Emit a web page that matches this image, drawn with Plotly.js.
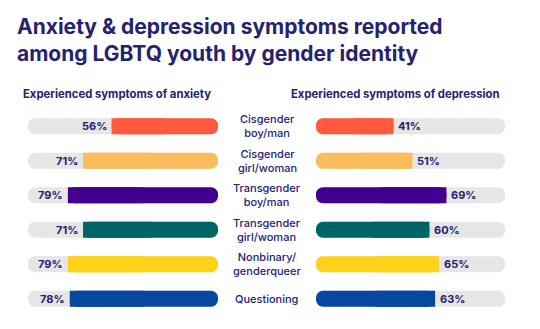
<!DOCTYPE html>
<html>
<head>
<meta charset="utf-8">
<script src="https://cdn.plot.ly/plotly-3.0.1.min.js"></script>
<style>html,body{margin:0;padding:0;background:#fff;}#chart{width:540px;height:329px;}</style>
</head>
<body>
<div id="chart"></div>
<script>
const groups = ["Cisgender<br>boy/man", "Cisgender<br>girl/woman", "Transgender<br>boy/man", "Transgender<br>girl/woman", "Nonbinary/<br>genderqueer", "Questioning"];
const anxiety = [56, 71, 79, 71, 79, 78];
const depression = [41, 51, 69, 60, 65, 63];
const barColors = ["#ff5a3d", "#f9be5b", "#420091", "#006466", "#ffd21a", "#0747a0"];
const titleText = "Anxiety & depression symptoms reported<br>among LGBTQ youth by gender identity";
const leftTitle = "Experienced symptoms of anxiety";
const rightTitle = "Experienced symptoms of depression";

const NAVY = "#25226e";
const TRACK = "#e6e6e6";
const FONT = "Inter, 'Noto Sans', sans-serif";
const W = 540, H = 329;
const plotTop = 108.7, plotBottom = 316.3;

function barSet(vals, xa) {
  const common = { type: "bar", orientation: "h", y: groups, xaxis: xa, yaxis: "y", hoverinfo: "skip", showlegend: false };
  return [
    // full grey track, rounded at both ends
    Object.assign({}, common, { x: vals.map(() => 100), base: vals.map(() => 0), marker: { color: TRACK, cornerradius: 8 } }),
    // coloured bar, rounded at both ends
    Object.assign({}, common, { x: vals, base: vals.map(() => 0), marker: { color: barColors, cornerradius: 8 } }),
    // square-ended cap over the inner end of the coloured bar
    Object.assign({}, common, { x: vals.map(v => v / 2), base: vals.map(v => v / 2), marker: { color: barColors, cornerradius: 0 } })
  ];
}

const data = [...barSet(anxiety, "x"), ...barSet(depression, "x2")];

const annotations = [];
groups.forEach((g, i) => {
  annotations.push({ xref: "x", yref: "y", x: anxiety[i], y: g, text: anxiety[i] + "%", showarrow: false,
    xanchor: "right", xshift: -3, font: { family: FONT, size: 11, color: NAVY, weight: 700 } });
  annotations.push({ xref: "x2", yref: "y", x: depression[i], y: g, text: depression[i] + "%", showarrow: false,
    xanchor: "left", xshift: 3, font: { family: FONT, size: 11, color: NAVY, weight: 700 } });
  annotations.push({ xref: "paper", yref: "y", x: 267 / W, y: g, text: g, showarrow: false,
    xanchor: "center", font: { family: FONT, size: 11, color: NAVY, weight: 500 } });
});
const subY = (plotBottom - 94) / (plotBottom - plotTop);
annotations.push({ xref: "paper", yref: "paper", x: 21 / W, y: subY, text: leftTitle, showarrow: false,
  xanchor: "left", yanchor: "middle", font: { family: FONT, size: 11.3, color: NAVY, weight: 700 } });
annotations.push({ xref: "paper", yref: "paper", x: 289 / W, y: subY, text: rightTitle, showarrow: false,
  xanchor: "left", yanchor: "middle", font: { family: FONT, size: 11.3, color: NAVY, weight: 700 } });

const layout = {
  width: W, height: H,
  margin: { l: 0, r: 0, t: plotTop, b: H - plotBottom },
  paper_bgcolor: "#fff", plot_bgcolor: "#fff",
  barmode: "overlay", bargap: 0.54,
  title: { text: titleText, x: 17 / W, xanchor: "left", y: 1 - 34 / H, yanchor: "top",
    font: { family: FONT, size: 21, color: NAVY, weight: 700 } },
  xaxis: { domain: [28 / W, 218 / W], range: [100, 0], visible: false, fixedrange: true },
  xaxis2: { domain: [316 / W, 505 / W], range: [0, 100], visible: false, fixedrange: true },
  yaxis: { autorange: "reversed", visible: false, fixedrange: true },
  annotations: annotations,
  showlegend: false
};

Plotly.newPlot("chart", data, layout, { displayModeBar: false, staticPlot: true });
</script>
</body>
</html>
